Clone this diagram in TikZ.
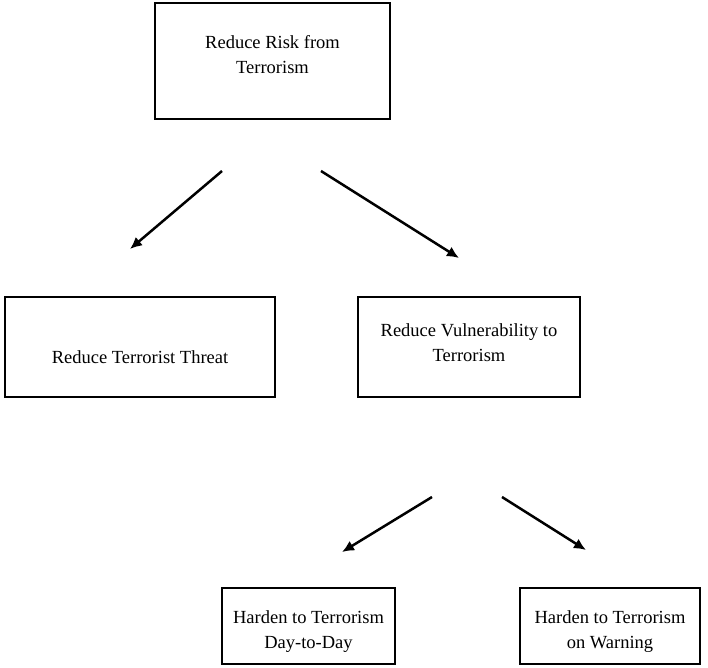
\documentclass[tikz,border=0pt]{standalone}
\usepackage{fontspec}
\setmainfont{Liberation Serif}
\usetikzlibrary{arrows.meta}

\begin{document}
\begin{tikzpicture}[x=1pt, y=-1pt,
		goalbox/.style={draw, line width=2.1pt, inner sep=0pt},
		goaltext/.style={align=center, inner sep=0pt, font=\fontsize{18.5}{25}\selectfont},
		goalarrow/.style={-{Latex[length=12pt, width=11pt]}, line width=2.5pt}]
				\useasboundingbox (0,0) rectangle (708,667);
				\begin{scope}
					\node[goalbox, minimum width=235, minimum height=116,
						label={[goaltext, yshift=6]center:{Reduce Risk from\\Terrorism}}] (risk) at (272.5, 61) {};
					\node[goalbox, minimum width=270, minimum height=100,
						label={[goaltext, yshift=-10]center:{Reduce Terrorist Threat}}] (threat) at (140, 347) {};
					\node[goalbox, minimum width=222, minimum height=100,
						label={[goaltext, yshift=4]center:{Reduce Vulnerability to\\Terrorism}}] (vuln) at (469, 347) {};
					\node[goalbox, minimum width=173, minimum height=76,
						label={[goaltext, yshift=-6]center:{Harden to Terrorism\\Day-to-Day}}] (daily) at (308.5, 626) {};
					\node[goalbox, minimum width=180, minimum height=76,
						label={[goaltext, yshift=-6]center:{Harden to Terrorism\\on Warning}}] (warn) at (610, 626) {};

					\coordinate (riskL) at (222, 171); % sotto risk
					\coordinate (riskR) at (321, 171);
					\coordinate (threatT) at (130, 249); % sopra threat
					\coordinate (vulnT) at (459, 258); % sopra vuln
					\coordinate (vulnL) at (432, 497); % sotto vuln
					\coordinate (vulnR) at (502, 497);
					\coordinate (dailyT) at (342, 552); % sopra daily
					\coordinate (warnT) at (586, 550); % sopra warn

					\draw[goalarrow] (riskL) -- (threatT); % da risk a threat
					\draw[goalarrow] (riskR) -- (vulnT); % da risk a vuln
					\draw[goalarrow] (vulnL) -- (dailyT); % da vuln a daily
					\draw[goalarrow] (vulnR) -- (warnT); % da vuln a warn
				\end{scope}
			\end{tikzpicture}
\end{document}
